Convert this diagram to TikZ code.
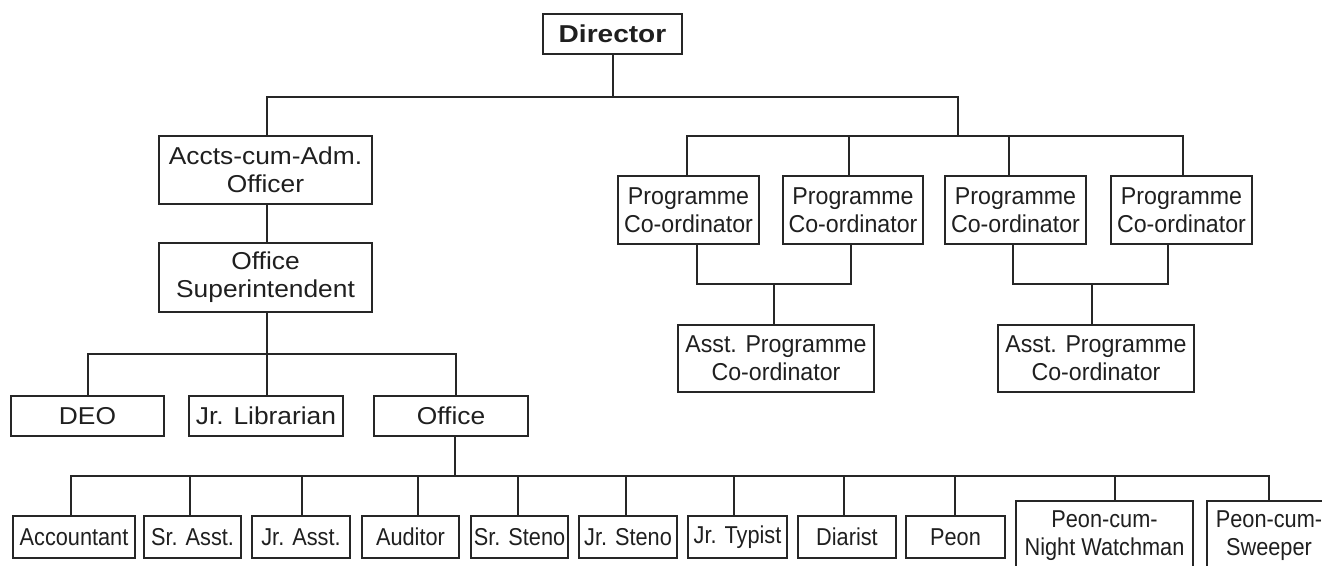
\documentclass[tikz,border=0pt]{standalone}
\usepackage{fontspec}
\setmainfont{Liberation Sans}
\newfontfamily\dirfont{Liberation Sans}[FakeStretch=1.15]
\newfontfamily\fwide{Liberation Sans}[FakeStretch=1.08]
\newfontfamily\fmid{Liberation Sans}[FakeStretch=0.95]
\newfontfamily\fnar{Liberation Sans}[FakeStretch=0.89]
\begin{document}
\begin{tikzpicture}[x=0.75pt,y=-0.75pt,
  ln/.style={line width=1.5pt, draw=black!85, line cap=rect},
  box/.style 2 args={draw=black!85, line width=1.5pt, minimum width=#1*0.75pt,
    minimum height=#2*0.75pt, inner sep=0pt, align=center, text=black!88,
    font=\fontsize{18.3}{21.2}\selectfont},
  wide/.style={font=\fontsize{18.3}{21.2}\selectfont\fwide},
  mid/.style={font=\fontsize{18.3}{21.2}\selectfont\fmid},
  nar/.style={font=\fontsize{18.3}{21.2}\selectfont\fnar}]
\useasboundingbox (0,0) rectangle (1322,566);
% nodes
\node[box={139}{40}] (dir) at (612.5,34) {\dirfont\bfseries Director};
\node[box={213}{68}, wide] (acc) at (265.5,170) {Accts-cum-Adm.\\Officer};
\node[box={213}{69}, wide] (sup) at (265.5,277.5) {Office\\Superintendent};
\node[box={141}{68}, mid] (pc1) at (688.5,210) {Programme\\Co-ordinator};
\node[box={140}{68}, mid] (pc2) at (853,210) {Programme\\Co-ordinator};
\node[box={141}{68}, mid] (pc3) at (1015.5,210) {Programme\\Co-ordinator};
\node[box={141}{68}, mid] (pc4) at (1181.5,210) {Programme\\Co-ordinator};
\node[box={196}{67}, mid] (apc1) at (776,358.5) {Asst. Programme\\Co-ordinator};
\node[box={196}{67}, mid] (apc2) at (1096,358.5) {Asst. Programme\\Co-ordinator};
\node[box={153}{40}, wide] (deo) at (87.5,416) {DEO};
\node[box={154}{40}, wide] (jl) at (266,416) {Jr. Librarian};
\node[box={154}{40}, wide] (off) at (451,416) {Office};
\node[box={122}{42}, nar] (acct) at (74,537) {Accountant};
\node[box={97}{42}, nar] (sra) at (192.5,537) {Sr. Asst.};
\node[box={98}{42}, nar] (jra) at (301,537) {Jr. Asst.};
\node[box={97}{42}, nar] (aud) at (410.5,537) {Auditor};
\node[box={97}{42}, nar] (srs) at (519.5,537) {Sr. Steno};
\node[box={98}{42}, nar] (jrs) at (628,537) {Jr. Steno};
\node[box={99}{42}, nar] (jrt) at (737.5,537) {Jr. Typist};
\node[box={98}{42}, nar] (dia) at (847,537) {Diarist};
\node[box={99}{42}, nar] (peon) at (955.5,537) {Peon};
\node[box={177}{69}, nar] (pnw) at (1104.5,535.5) {Peon-cum-\\Night Watchman};
\node[box={124}{69}, nar] (pcs) at (1269,535.5) {Peon-cum-\\Sweeper};
% connectors
\draw[ln] (dir.south) -- (dir.south |- 0,97);
\draw[ln] (267,0 |- acc.north) -- (267,97) -- (958,97) -- (958,136);
\draw[ln] (687,136) -- (1183,136);
\foreach \x/\n in {687/pc1, 849/pc2, 1009/pc3, 1183/pc4}
  \draw[ln] (\x,136) -- (\x,0 |- \n.north);
\draw[ln] (697,0 |- pc1.south) -- (697,284) -- (851,284) -- (851,0 |- pc2.south);
\draw[ln] (774,284) -- (774,0 |- apc1.north);
\draw[ln] (1013,0 |- pc3.south) -- (1013,284) -- (1168,284) -- (1168,0 |- pc4.south);
\draw[ln] (1092,284) -- (1092,0 |- apc2.north);
\draw[ln] (267,0 |- acc.south) -- (267,0 |- sup.north);
\draw[ln] (267,0 |- sup.south) -- (267,354);
\draw[ln] (88,354) -- (456,354);
\foreach \x/\n in {88/deo, 267/jl, 456/off}
  \draw[ln] (\x,354) -- (\x,0 |- \n.north);
\draw[ln] (455,0 |- off.south) -- (455,476);
\draw[ln] (71,476) -- (1269,476);
\foreach \x/\n in {71/acct, 190/sra, 302/jra, 418/aud, 518/srs, 626/jrs, 734/jrt, 844/dia, 955/peon, 1115/pnw, 1269/pcs}
  \draw[ln] (\x,476) -- (\x,0 |- \n.north);
\end{tikzpicture}
\end{document}
